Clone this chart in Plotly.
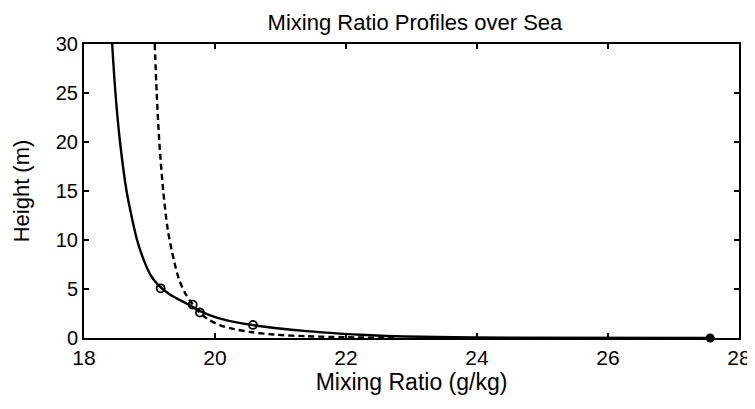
import plotly.graph_objects as go

# solid profile
solid_y = [30, 25, 20, 15, 12, 10, 8, 6.5, 5.5, 4.5, 3.5, 2.8, 2.2, 1.7, 1.3, 1.0, 0.7, 0.45, 0.3, 0.15, 0.05, 0.0]
solid_x = [18.43, 18.48, 18.55, 18.65, 18.74, 18.81, 18.91, 19.01, 19.12, 19.30, 19.57, 19.76, 19.97, 20.25, 20.6, 20.95, 21.4, 21.9, 22.3, 22.9, 24.0, 27.56]

# dashed profile
dash_y = [30, 25, 20, 15, 11, 8, 6, 4.5, 3.5, 2.5, 1.8, 1.3, 0.9, 0.6, 0.35, 0.18, 0.08, 0.0]
dash_x = [19.08, 19.11, 19.15, 19.21, 19.28, 19.37, 19.45, 19.55, 19.65, 19.78, 19.92, 20.08, 20.3, 20.55, 20.9, 21.4, 22.0, 22.8]

# open circle observations
obs_x = [19.17, 19.66, 19.77, 20.58]
obs_y = [5.07, 3.4, 2.6, 1.33]

# filled surface point
surf_x = [27.56]
surf_y = [0.0]

font = 'Liberation Sans, Arial'

fig = go.Figure()

fig.add_trace(go.Scatter(x=solid_x, y=solid_y, mode='lines',
    line=dict(color='black', width=2.4, shape='spline', smoothing=0.8)))
fig.add_trace(go.Scatter(x=dash_x, y=dash_y, mode='lines',
    line=dict(color='black', width=2.4, dash='6px,4px', shape='spline', smoothing=0.8)))
fig.add_trace(go.Scatter(x=obs_x, y=obs_y, mode='markers',
    marker=dict(symbol='circle-open', size=8, color='black', line=dict(width=1.8))))
fig.add_trace(go.Scatter(x=surf_x, y=surf_y, mode='markers',
    marker=dict(symbol='circle', size=9, color='black'), cliponaxis=False))

axis_style = dict(
    showline=True, linecolor='black', linewidth=2, mirror='ticks',
    ticks='inside', ticklen=5, tickwidth=1.5, tickcolor='black',
    showgrid=False, zeroline=False,
)

# page body adds 8px offset, margins compensate
fig.update_layout(
    width=755, height=409,
    margin=dict(l=76, r=24, t=36, b=79),
    paper_bgcolor='white', plot_bgcolor='white',
    showlegend=False,
    title=dict(text='Mixing Ratio Profiles over Sea', x=0.539, xanchor='center', y=0.966, yanchor='middle',
               font=dict(family=font, size=22, color='black')),
    xaxis=dict(axis_style, range=[18, 28], tickvals=[18, 20, 22, 24, 26, 28],
               tickfont=dict(family=font, size=21, color='black'),
               title=dict(text='Mixing Ratio (g/kg)', standoff=2,
                          font=dict(family=font, size=23, color='black'))),
    yaxis=dict(axis_style, range=[0, 30], tickvals=[0, 5, 10, 15, 20, 25, 30],
               tickfont=dict(family=font, size=20, color='black'),
               title=dict(text='Height (m)', standoff=20,
                          font=dict(family=font, size=22, color='black'))),
)

fig.write_html("out.html")
